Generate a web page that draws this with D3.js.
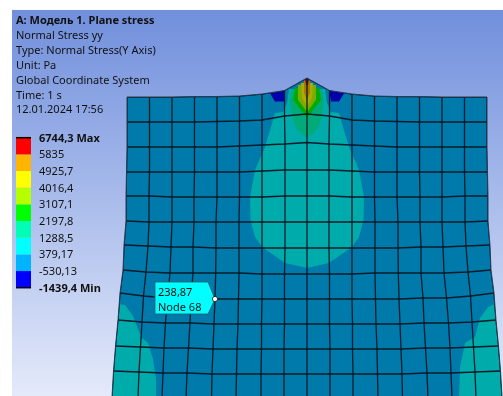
<!DOCTYPE html>
<html>
<head>
<meta charset="utf-8">
<script src="https://cdn.jsdelivr.net/npm/d3@7"></script>
<style>
  html, body { margin: 0; padding: 0; background: #fff; }
  svg { display: block; filter: blur(0.3px); }
  text { font-family: "Noto Sans", sans-serif; font-size: 11px; fill: #111; }
</style>
</head>
<body>
<div id="chart"></div>
<script>
const titleLines = [
  "A: Модель 1. Plane stress",
  "Normal Stress yy",
  "Type: Normal Stress(Y Axis)",
  "Unit: Pa",
  "Global Coordinate System",
  "Time: 1 s",
  "12.01.2024 17:56"
];

// legend, bottom to top
const legendLabels = ["-1439,4 Min", "-530,13", "379,17", "1288,5", "2197,8", "3107,1", "4016,4", "4925,7", "5835", "6744,3 Max"];
const legendLevels = [-530.13, 379.17, 1288.5, 2197.8, 3107.1, 4016.4, 4925.7, 5835];
const legendColors = ["#0000ff", "#00b4ff", "#00ffff", "#00ffb4", "#00ff00", "#b4ff00", "#ffff00", "#ffb400", "#ff0000"];

// deformed mesh nodes, left half of the plate, distance from centre line (row x col)
const meshX = [
  [-180, -157.5, -135, -112.5, -90, -67.5, -45, -22.5, 0],
  [-180, -157.5, -135, -112.5, -90, -67.5, -45, -22.5, 0],
  [-180, -157.5, -135, -112.5, -90, -67.5, -45, -22, 0],
  [-180.5, -157.5, -135, -112.5, -90, -67.5, -45, -22, 0],
  [-181, -158, -135, -113, -90, -67.5, -45, -22, 0],
  [-181, -158, -135, -113, -91, -68, -45, -22, 0],
  [-183, -159, -136, -114, -91, -68, -45, -22, 0],
  [-184, -161, -137, -114, -91.3, -68, -45, -22.5, 0],
  [-187, -163.5, -139.5, -116, -92, -68.5, -45, -22.5, 0],
  [-189, -165, -141.5, -117, -93, -69, -45.5, -22.5, 0],
  [-191.5, -166.5, -143, -118.5, -94, -70, -45.5, -23, 0],
  [-193.5, -168, -144, -120, -95, -70.5, -46, -23, 0],
  [-195, -169, -145, -121, -95.5, -71, -46, -23, 0]
];
// same nodes, distance below the top corner
const meshY = [
  [0, 0, 0, -0.5, -0.5, -1, -3, -6.5, -19],
  [25, 25, 25, 25, 24.5, 24, 23, 19, 17],
  [50, 50, 50, 50, 50, 49, 48, 47, 45.5],
  [75, 75, 75, 75, 75, 75, 74, 73, 73],
  [99, 99, 100, 100, 100, 100, 100, 99, 99],
  [124, 125, 125, 125, 125, 125, 125, 125, 125],
  [148, 149, 150, 150, 151, 151, 151, 151, 151],
  [173, 175, 176, 176, 176, 176, 177, 177, 177],
  [196, 199, 201, 201, 202, 202, 202, 202, 202],
  [223, 225, 226, 226, 227, 227, 227, 227, 227],
  [249, 250, 251, 251, 252, 252, 252, 252, 252],
  [274, 275, 276, 276, 277, 277, 277, 277, 277],
  [300, 301, 301, 302, 302, 302, 302, 302, 302]
];

// result contours: left half outlines, mirrored about the centre line when drawn
const cyanHalf = [[-18, -8], [-20, 6], [-24, 15], [-32, 16], [-37, 33], [-42, 50], [-52, 73], [-57, 100], [-56.5, 123], [-52, 140], [-45, 150], [-22, 166], [0, 171]];
const tealGreenHalf = [[-15, -8], [-17, 6], [-14, 23], [-10, 33], [0, 41]];
const greenHalf = [[-12, -9], [-14, 3], [0, 21]];
const limeHalf = [[-9, -12], [-9, 3], [0, 15]];
const yellowHalf = [[-6, -14], [-5, 1], [0, 10]];
const orangeHalf = [[-3, -16], [-3, -4], [0, 3]];
const redHalf = [[-2, -18], [-1, -12], [0, -12]];
const contourBands = [
  { stress: 800, half: cyanHalf },
  { stress: 1700, half: tealGreenHalf },
  { stress: 2600, half: greenHalf },
  { stress: 3500, half: limeHalf },
  { stress: 4400, half: yellowHalf },
  { stress: 5300, half: orangeHalf },
  { stress: 6200, half: redHalf }
];
const lowPatchLeft = [[-37, -3.5], [-22, -7], [-23, 4.5], [-32, 4.5]];
const lowPatchRight = [[37, -3.5], [22, -7], [24, 4.5], [32, 4.5]];
const cornerLeft = [[-200, 207], [-189, 207], [-182, 208], [-174, 219], [-169, 232], [-165, 241], [-159, 246], [-154, 262], [-151, 282], [-151, 305], [-200, 305]];
const cornerRight = [[200, 206], [190, 206], [181, 210], [173, 221], [168, 240], [158, 246], [153, 270], [152, 305], [200, 305]];

const probeValue = "238,87";
const probeNode = "Node 68";
const probeRow = 8, probeCol = 4;

const width = 503, height = 396;
const panel = { left: 12, top: 10 };

const x = d3.scaleLinear().domain([-180, 180]).range([127, 487]);
const y = d3.scaleLinear().domain([0, 300]).range([97, 397]);
const colorScale = d3.scaleThreshold().domain(legendLevels).range(legendColors);

// contour colours are the legend colours with lighting on top
const shaded = (stress) => {
  const c = d3.rgb(colorScale(stress));
  return d3.rgb(c.r * 0.67, c.g * 0.67, c.b * 0.67).formatHex();
};

const svg = d3.select("#chart").append("svg")
  .attr("width", width)
  .attr("height", height);

const defs = svg.append("defs");
const grad = defs.append("linearGradient")
  .attr("id", "bg")
  .attr("x1", 0).attr("x2", 0).attr("y1", 0).attr("y2", 1);
grad.append("stop").attr("offset", "0%").attr("stop-color", "#708fdc");
grad.append("stop").attr("offset", "100%").attr("stop-color", "#e4eafa");

svg.append("rect")
  .attr("x", panel.left)
  .attr("y", panel.top)
  .attr("width", width - panel.left)
  .attr("height", height - panel.top)
  .attr("fill", "url(#bg)");

// full node grid, mirrored about the centre line
const nodes = meshX.map((row, r) => {
  const left = row.map((d, c) => [d, meshY[r][c]]);
  const right = left.slice(0, -1).reverse().map((d) => [-d[0], d[1]]);
  return left.concat(right);
});
const colCount = nodes[0].length;
const last = nodes.length - 1;

const line = d3.line().x((d) => x(d[0])).y((d) => y(d[1]));

const outline = nodes[0]
  .concat(nodes.map((row) => row[colCount - 1]))
  .concat(nodes[last].slice().reverse())
  .concat(nodes.map((row) => row[0]).reverse());

defs.append("clipPath").attr("id", "plate")
  .append("path").attr("d", line(outline) + "Z");

const plot = svg.append("g").attr("clip-path", "url(#plate)");

plot.append("path")
  .attr("d", line(outline) + "Z")
  .attr("fill", shaded(238.87));

const mirrorHalf = (half) => half.concat(half.slice(0, -1).reverse().map((d) => [-d[0], d[1]]));

plot.selectAll("path.corner")
  .data([cornerLeft, cornerRight])
  .join("path")
  .attr("class", "corner")
  .attr("d", (d) => line(d) + "Z")
  .attr("fill", shaded(800));

plot.selectAll("path.low")
  .data([lowPatchLeft, lowPatchRight])
  .join("path")
  .attr("class", "low")
  .attr("d", (d) => line(d) + "Z")
  .attr("fill", shaded(-1000));

plot.selectAll("path.band")
  .data(contourBands)
  .join("path")
  .attr("class", "band")
  .attr("d", (d) => line(mirrorHalf(d.half)) + "Z")
  .attr("fill", (d) => shaded(d.stress));

// mesh lines
const rowLines = nodes;
const colLines = d3.range(colCount).map((c) => nodes.map((row) => row[c]));

plot.selectAll("path.mesh")
  .data(rowLines.concat(colLines))
  .join("path")
  .attr("class", "mesh")
  .attr("d", line)
  .attr("fill", "none")
  .attr("stroke", "#021c2a")
  .attr("stroke-width", 1.3);

svg.append("path")
  .attr("d", line(outline) + "Z")
  .attr("fill", "none")
  .attr("stroke", "#2c3a55")
  .attr("stroke-width", 1);

// header text
svg.append("g").selectAll("text")
  .data(titleLines)
  .join("text")
  .attr("x", 16)
  .attr("y", (d, i) => 24 + i * 14.9)
  .style("font-weight", (d, i) => (i === 0 ? "bold" : "normal"))
  .text((d) => d);

// legend
const legendY = d3.scaleLinear().domain([0, legendColors.length]).range([287.7, 137.7]);

const legend = svg.append("g");

legend.selectAll("rect")
  .data(legendColors)
  .join("rect")
  .attr("x", 16)
  .attr("y", (d, i) => legendY(i + 1))
  .attr("width", 15)
  .attr("height", legendY(0) - legendY(1))
  .attr("fill", (d) => d);

legend.selectAll("line")
  .data([0, legendColors.length])
  .join("line")
  .attr("x1", 16).attr("x2", 31)
  .attr("y1", (d) => legendY(d))
  .attr("y2", (d) => legendY(d))
  .attr("stroke", "#000")
  .attr("stroke-width", 1.5);

legend.selectAll("text")
  .data(legendLabels)
  .join("text")
  .attr("x", 39)
  .attr("y", (d, i) => legendY(i) + 4)
  .style("font-weight", (d, i) => (i === 0 || i === legendLabels.length - 1 ? "bold" : "normal"))
  .text((d) => d);

// probe callout
const probe = nodes[probeRow][probeCol];
const px = x(probe[0]), py = y(probe[1]);

const callout = svg.append("g").attr("transform", `translate(${px},${py})`);

callout.append("path")
  .attr("d", "M-60,-17H-7L0,0L-7,15H-60Z")
  .attr("fill", "#00ffff")
  .attr("stroke", "#245a6a")
  .attr("stroke-width", 0.8);

callout.selectAll("text")
  .data([probeValue, probeNode])
  .join("text")
  .attr("x", -57)
  .attr("y", (d, i) => -3.5 + i * 15)
  .text((d) => d);

callout.append("circle")
  .attr("r", 2.6)
  .attr("fill", "#fff")
  .attr("stroke", "#111")
  .attr("stroke-width", 0.8);
</script>
</body>
</html>
